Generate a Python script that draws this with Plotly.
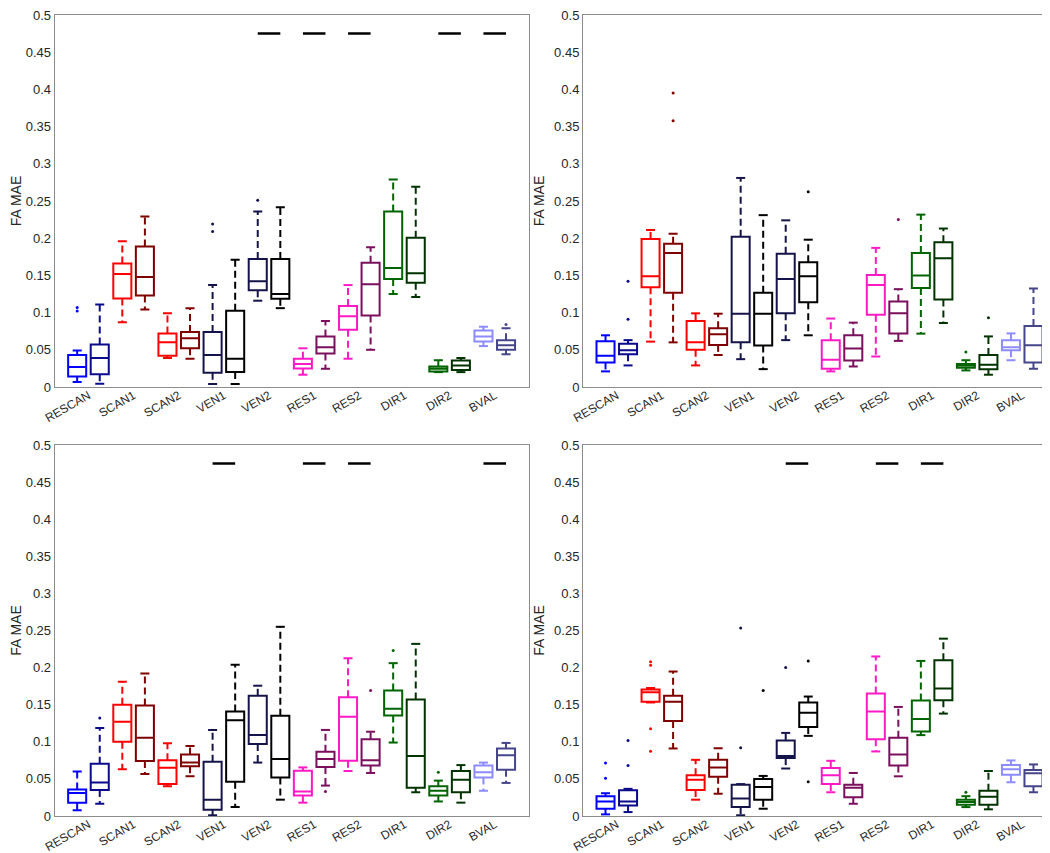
import plotly.graph_objects as go

CATEGORIES = ["RESCAN", "SCAN1", "SCAN2", "VEN1", "VEN2", "RES1", "RES2", "DIR1", "DIR2", "BVAL"]
COLORS_A = ["#0000FF", "#FF0000", "#FF0000", "#14144A", "#14144A", "#FF1AC6", "#FF1AC6", "#006400", "#006400", "#8C8CFF"]
COLORS_B = ["#0A0A8C", "#800000", "#800000", "#000000", "#000000", "#7A0F5E", "#7A0F5E", "#003300", "#003300", "#45458A"]
Y_TICKS = [0, 0.05, 0.1, 0.15, 0.2, 0.25, 0.3, 0.35, 0.4, 0.45, 0.5]
SIG_LEVEL = 0.475

# ---- Panel 1 (top-left): boxes ordered group1-a, group1-b, group2-a, ...
P1_LO = [.0067, .0045, .087, .104, .039, .038, .004, .004, .116, .106, .0165, .0245, .038, .050, .125, .121, .020, .020, .055, .044]
P1_Q1 = [.014, .017, .119, .123, .042, .052, .019, .020, .130, .1185, .025, .045, .077, .096, .145, .140, .021, .023, .061, .050]
P1_MED = [.027, .039, .152, .148, .060, .0655, .043, .038, .142, .125, .031, .0535, .095, .138, .160, .153, .0245, .029, .068, .056]
P1_Q3 = [.043, .057, .166, .189, .072, .074, .074, .1025, .172, .172, .038, .068, .109, .167, .236, .2005, .0276, .0356, .076, .063]
P1_HI = [.049, .111, .196, .229, .099, .106, .137, .171, .236, .2415, .052, .0887, .137, .188, .279, .269, .036, .039, .081, .079]
P1_OUT_BOX = [0, 0, 6, 6, 8, 19]
P1_OUT_VAL = [.107, .102, .219, .209, .251, .084]
P1_SIG = ["VEN2", "RES1", "RES2", "DIR2", "BVAL"]

# ---- Panel 2 (top-right)
P2_LO = [.021, .029, .061, .060, .029, .043, .0374, .024, .063, .0695, .021, .0276, .041, .062, .0717, .086, .0223, .0165, .036, .0245]
P2_Q1 = [.033, .044, .134, .1266, .050, .0566, .060, .0557, .099, .114, .0245, .0357, .097, .072, .133, .1176, .026, .024, .0495, .033]
P2_MED = [.042, .0495, .149, .180, .060, .071, .0985, .0985, .145, .149, .0365, .0517, .137, .099, .150, .173, .029, .030, .0535, .056]
P2_Q3 = [.0615, .058, .199, .1925, .0887, .079, .202, .1266, .179, .1676, .063, .0695, .1506, .115, .180, .1947, .031, .043, .063, .082]
P2_HI = [.0695, .063, .211, .206, .099, .0985, .281, .231, .224, .198, .092, .0865, .187, .1315, .2317, .213, .036, .068, .072, .1324]
P2_OUT_BOX = [1, 1, 3, 3, 9, 13, 16, 17]
P2_OUT_VAL = [.091, .142, .358, .395, .2625, .225, .047, .093]
P2_SIG = []

# ---- Panel 3 (bottom-left)
P3_LO = [.0076, .0165, .063, .0566, .040, .0535, .001, .012, .072, .022, .018, .041, .0606, .058, .099, .032, .0196, .018, .034, .0446]
P3_Q1 = [.018, .035, .100, .074, .043, .067, .0085, .046, .097, .052, .0276, .066, .0744, .068, .1355, .038, .0276, .032, .052, .0624]
P3_MED = [.031, .045, .127, .1056, .065, .072, .022, .129, .109, .0767, .033, .0767, .1337, .075, .1444, .0807, .034, .049, .059, .082]
P3_Q3 = [.0357, .0704, .150, .149, .075, .083, .073, .141, .162, .135, .061, .0865, .160, .1034, .169, .157, .040, .0606, .068, .091]
P3_HI = [.060, .1185, .181, .192, .098, .0945, .116, .204, .1756, .255, .0655, .116, .2126, .1136, .206, .232, .0477, .0686, .072, .0985]
P3_OUT_BOX = [1, 11, 13, 14, 16]
P3_OUT_VAL = [.132, .033, .169, .223, .059]
P3_SIG = ["VEN1", "RES1", "RES2", "BVAL"]

# ---- Panel 4 (bottom-right)
P4_LO = [.0022, .0053, .153, .091, .022, .030, .001, .0098, .064, .108, .032, .0165, .087, .0535, .109, .138, .012, .009, .0455, .032]
P4_Q1 = [.0098, .0143, .154, .128, .035, .053, .012, .022, .078, .120, .043, .0254, .1034, .068, .114, .156, .015, .015, .0557, .040]
P4_MED = [.0196, .0196, .1667, .154, .049, .0655, .0236, .039, .081, .139, .055, .038, .141, .083, .1306, .172, .0187, .026, .063, .0575]
P4_Q3 = [.0267, .0348, .1705, .162, .055, .0757, .042, .050, .1016, .153, .0646, .042, .165, .1056, .1555, .210, .022, .034, .0686, .062]
P4_HI = [.0307, .0366, .1725, .1947, .0757, .0913, .043, .054, .112, .161, .0744, .058, .215, .147, .209, .239, .0267, .0606, .0749, .0695]
P4_OUT_BOX = [0, 0, 1, 1, 2, 2, 2, 2, 6, 6, 7, 8, 9, 9, 16]
P4_OUT_VAL = [.0713, .0508, .1016, .0682, .208, .203, .1176, .0874, .092, .2535, .169, .200, .209, .046, .032]
P4_SIG = ["VEN2", "RES2", "DIR1"]

PANELS = [
    (P1_LO, P1_Q1, P1_MED, P1_Q3, P1_HI, P1_OUT_BOX, P1_OUT_VAL, P1_SIG),
    (P2_LO, P2_Q1, P2_MED, P2_Q3, P2_HI, P2_OUT_BOX, P2_OUT_VAL, P2_SIG),
    (P3_LO, P3_Q1, P3_MED, P3_Q3, P3_HI, P3_OUT_BOX, P3_OUT_VAL, P3_SIG),
    (P4_LO, P4_Q1, P4_MED, P4_Q3, P4_HI, P4_OUT_BOX, P4_OUT_VAL, P4_SIG),
]

W, H = 1050, 853
# plot-area pixel rectangles (left, right, top, bottom)
RECTS = [(46.6, 520.6, 7, 379), (575, 1048, 7, 379),
         (46.6, 520.6, 437, 808), (575, 1048, 437, 808)]

OFFSET = 0.25
BOX_W = 0.4
CAP_HALF = 0.1
LW = 2

fig = go.Figure()
layout = dict(width=W, height=H, margin=dict(l=0, r=0, t=0, b=0, autoexpand=False),
              plot_bgcolor="white", paper_bgcolor="white", showlegend=False,
              font=dict(family="Liberation Sans, Arial, sans-serif", size=13, color="#262626"))

for pi, (lo, q1, med, q3, hi, ob, ov, sig) in enumerate(PANELS):
    sfx = "" if pi == 0 else str(pi + 1)
    xa, ya = "x" + sfx, "y" + sfx
    l, r, t, b = RECTS[pi]
    layout["xaxis" + sfx] = dict(
        domain=[l / W, r / W], range=[0.25, 10.75], anchor=ya, automargin=False,
        tickmode="array", tickvals=list(range(1, len(CATEGORIES) + 1)), ticktext=CATEGORIES,
        tickangle=-30, ticks="", showgrid=False, zeroline=False, ticklabeloverflow="allow",
        ticklabelstandoff=-4,
        showline=True, linecolor="#8c8c8c", linewidth=1, mirror=True,
        tickfont=dict(size=12, color="#262626"))
    layout["yaxis" + sfx] = dict(
        domain=[1 - b / H, 1 - t / H], range=[0, 0.5], anchor=xa, automargin=False,
        tickmode="array", tickvals=Y_TICKS, ticktext=[("%g" % v) for v in Y_TICKS],
        ticks="", showgrid=False, zeroline=False, ticklabeloverflow="allow",
        showline=True, linecolor="#8c8c8c", linewidth=1, mirror=True,
        tickfont=dict(size=13, color="#262626"),
        title=dict(text="FA MAE", font=dict(size=14, color="#262626"), standoff=6))

    for gi, cat in enumerate(CATEGORIES):
        for k in range(2):
            idx = 2 * gi + k
            pos = gi + 1 + (-OFFSET if k == 0 else OFFSET)
            col = COLORS_A[gi] if k == 0 else COLORS_B[gi]
            fig.add_trace(go.Box(
                x=[pos], q1=[q1[idx]], median=[med[idx]], q3=[q3[idx]],
                lowerfence=[q1[idx]], upperfence=[q3[idx]],
                width=BOX_W, boxpoints=False, fillcolor="rgba(0,0,0,0)",
                line=dict(color=col, width=LW), whiskerwidth=0,
                xaxis=xa, yaxis=ya, hoverinfo="skip"))
            # dashed whiskers
            fig.add_trace(go.Scatter(
                x=[pos, pos, None, pos, pos],
                y=[q3[idx], hi[idx], None, q1[idx], lo[idx]],
                mode="lines", line=dict(color=col, width=LW, dash="7px,4px"),
                xaxis=xa, yaxis=ya, hoverinfo="skip"))
            # caps
            fig.add_trace(go.Scatter(
                x=[pos - CAP_HALF, pos + CAP_HALF, None, pos - CAP_HALF, pos + CAP_HALF],
                y=[hi[idx], hi[idx], None, lo[idx], lo[idx]],
                mode="lines", line=dict(color=col, width=LW),
                xaxis=xa, yaxis=ya, hoverinfo="skip"))
    # outliers
    for bi, v in zip(ob, ov):
        gi, k = divmod(bi, 2)
        pos = gi + 1 + (-OFFSET if k == 0 else OFFSET)
        col = COLORS_A[gi] if k == 0 else COLORS_B[gi]
        fig.add_trace(go.Scatter(x=[pos], y=[v], mode="markers",
                                 marker=dict(color=col, size=3),
                                 xaxis=xa, yaxis=ya, hoverinfo="skip"))
    # significance bars
    for cat in sig:
        c = CATEGORIES.index(cat) + 1
        fig.add_trace(go.Scatter(x=[c - OFFSET, c + OFFSET], y=[SIG_LEVEL, SIG_LEVEL],
                                 mode="lines", line=dict(color="black", width=2.5),
                                 xaxis=xa, yaxis=ya, hoverinfo="skip"))

fig.update_layout(**layout)
fig.write_html("out.html")
